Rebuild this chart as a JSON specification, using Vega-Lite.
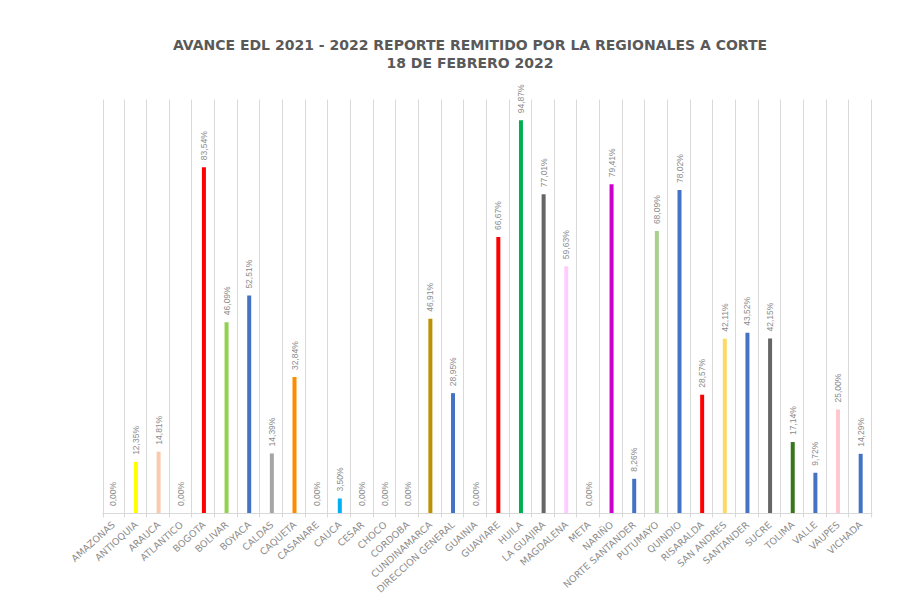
{
  "$schema": "https://vega.github.io/schema/vega-lite/v6.json",
  "autosize": "none",
  "width": 770,
  "height": 414,
  "padding": {"left": 102, "top": 99, "right": 52, "bottom": 81},
  "background": "white",
  "title": {
    "text": ["AVANCE EDL 2021 - 2022 REPORTE REMITIDO POR LA REGIONALES A CORTE", "18 DE FEBRERO 2022"],
    "anchor": "middle",
    "dx": -17,
    "offset": 13,
    "font": "DejaVu Sans",
    "fontSize": 14,
    "fontWeight": "bold",
    "color": "#595959",
    "lineHeight": 18
  },
  "config": {
    "locale": {"number": {"decimal": ",", "thousands": ".", "grouping": [3], "currency": ["", " €"]}},
    "view": {"stroke": null}
  },
  "data": {
    "values": [
      {"region": "AMAZONAS", "avance": 0.0},
      {"region": "ANTIOQUIA", "avance": 0.1235},
      {"region": "ARAUCA", "avance": 0.1481},
      {"region": "ATLANTICO", "avance": 0.0},
      {"region": "BOGOTA", "avance": 0.8354},
      {"region": "BOLIVAR", "avance": 0.4609},
      {"region": "BOYACA", "avance": 0.5251},
      {"region": "CALDAS", "avance": 0.1439},
      {"region": "CAQUETA", "avance": 0.3284},
      {"region": "CASANARE", "avance": 0.0},
      {"region": "CAUCA", "avance": 0.035},
      {"region": "CESAR", "avance": 0.0},
      {"region": "CHOCO", "avance": 0.0},
      {"region": "CORDOBA", "avance": 0.0},
      {"region": "CUNDINAMARCA", "avance": 0.4691},
      {"region": "DIRECCION GENERAL", "avance": 0.2895},
      {"region": "GUAINIA", "avance": 0.0},
      {"region": "GUAVIARE", "avance": 0.6667},
      {"region": "HUILA", "avance": 0.9487},
      {"region": "LA GUAJIRA", "avance": 0.7701},
      {"region": "MAGDALENA", "avance": 0.5963},
      {"region": "META", "avance": 0.0},
      {"region": "NARIÑO", "avance": 0.7941},
      {"region": "NORTE SANTANDER", "avance": 0.0826},
      {"region": "PUTUMAYO", "avance": 0.6809},
      {"region": "QUINDIO", "avance": 0.7802},
      {"region": "RISARALDA", "avance": 0.2857},
      {"region": "SAN ANDRES", "avance": 0.4211},
      {"region": "SANTANDER", "avance": 0.4352},
      {"region": "SUCRE", "avance": 0.4215},
      {"region": "TOLIMA", "avance": 0.1714},
      {"region": "VALLE", "avance": 0.0972},
      {"region": "VAUPES", "avance": 0.25},
      {"region": "VICHADA", "avance": 0.1429}
    ]
  },
  "encoding": {
    "x": {
      "field": "region",
      "type": "nominal",
      "sort": null,
      "title": null,
      "axis": {
        "labelAngle": -42,
        "labelAlign": "right",
        "labelBaseline": "middle",
        "labelPadding": 6,
        "labelFont": "DejaVu Sans",
        "labelFontSize": 9.5,
        "labelColor": "#8C8C8C",
        "labelLimit": 200,
        "tickBand": "extent",
        "tickSize": 4,
        "tickColor": "#D9D9D9",
        "domainColor": "#D9D9D9",
        "grid": true,
        "gridColor": "#D9D9D9",
        "gridWidth": 1
      }
    },
    "y": {
      "field": "avance",
      "type": "quantitative",
      "scale": {"domain": [0, 1], "nice": false},
      "axis": null
    }
  },
  "layer": [
    {
      "mark": {"type": "bar", "size": 4},
      "encoding": {
        "color": {
          "field": "region",
          "type": "nominal",
          "legend": null,
          "scale": {
            "domain": ["AMAZONAS", "ANTIOQUIA", "ARAUCA", "ATLANTICO", "BOGOTA", "BOLIVAR", "BOYACA", "CALDAS", "CAQUETA", "CASANARE", "CAUCA", "CESAR", "CHOCO", "CORDOBA", "CUNDINAMARCA", "DIRECCION GENERAL", "GUAINIA", "GUAVIARE", "HUILA", "LA GUAJIRA", "MAGDALENA", "META", "NARIÑO", "NORTE SANTANDER", "PUTUMAYO", "QUINDIO", "RISARALDA", "SAN ANDRES", "SANTANDER", "SUCRE", "TOLIMA", "VALLE", "VAUPES", "VICHADA"],
            "range": ["#4472C4", "#FFFF00", "#F8CBAD", "#4472C4", "#FF0000", "#92D050", "#4472C4", "#A5A5A5", "#FF8C00", "#4472C4", "#00B0F0", "#4472C4", "#4472C4", "#4472C4", "#BF9000", "#4472C4", "#4472C4", "#FF0000", "#00B050", "#666666", "#FFCCFF", "#4472C4", "#CC00CC", "#4472C4", "#A9D18E", "#4472C4", "#FF0000", "#FFD966", "#4472C4", "#666666", "#38761D", "#4472C4", "#FFC7CE", "#4472C4"]
          }
        }
      }
    },
    {
      "mark": {
        "type": "text",
        "angle": 270,
        "align": "left",
        "baseline": "middle",
        "dx": 7,
        "font": "Liberation Sans",
        "fontSize": 8.5,
        "color": "#8C8C8C"
      },
      "encoding": {
        "text": {"field": "avance", "type": "quantitative", "format": ".2%"}
      }
    }
  ]
}
